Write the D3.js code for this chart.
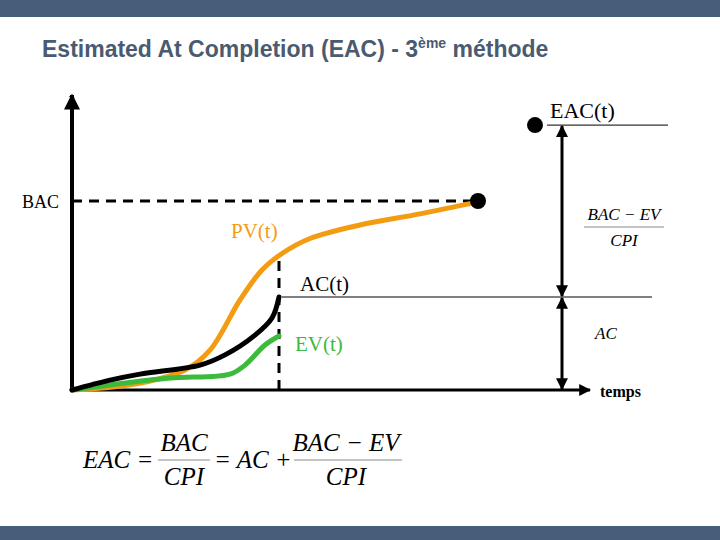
<!DOCTYPE html>
<html>
<head>
<meta charset="utf-8">
<script src="https://cdn.jsdelivr.net/npm/d3@7"></script>
<style>
  body { margin: 0; background: #fff; }
  .serif { font-family: "Liberation Serif", "DejaVu Serif", serif; }
</style>
</head>
<body>
<svg id="chart" width="720" height="540"></svg>
<script>
// time in % of the horizontal extent, value in % of the vertical extent
var pvT = [0, 11.6, 22.6, 27.6, 33.6, 38, 42, 47.6, 57.6, 69.6, 81.2]
var pvV = [0, 1.7, 6.7, 13.3, 30, 40, 45.5, 50.5, 55, 58.7, 62.7]
var acT = [0, 7.6, 13.6, 25.6, 30.6, 36.6, 40, 41.4]
var acV = [0, 3.3, 5.3, 8.3, 11.7, 18.3, 24, 31]
var evT = [0, 7.6, 19.6, 31.6, 34.6, 38.6, 41.4]
var evV = [0, 1.7, 4, 5.3, 8.3, 15, 18]
var BAC = 63, tNow = 41.4, acNow = 31, EAC = 88.3, tEnd = 81.2, tEac = 92.6, tArrow = 98

var svg = d3.select("#chart")
var x = d3.scaleLinear().domain([0, 100]).range([72, 572])
var y = d3.scaleLinear().domain([0, 100]).range([390, 90])

svg.append("rect").attr("width", 720).attr("height", 17).attr("fill", "#475e7b")
svg.append("rect").attr("y", 526).attr("width", 720).attr("height", 14).attr("fill", "#475e7b")

var title = svg.append("text")
    .attr("x", 42).attr("y", 57)
    .attr("font-family", "Liberation Sans, Arial, sans-serif")
    .attr("font-weight", "bold").attr("font-size", 23)
    .attr("fill", "#4a5a70")
title.append("tspan").text("Estimated At Completion (EAC) - 3")
title.append("tspan").attr("font-size", 14).attr("dy", -9).text("ème")
title.append("tspan").attr("dy", 9).text(" méthode")

var defs = svg.append("defs")
defs.append("marker").attr("id", "arr").attr("viewBox", "0 0 10 10")
    .attr("refX", 9).attr("refY", 5).attr("markerWidth", 4).attr("markerHeight", 4)
    .attr("orient", "auto-start-reverse")
    .append("path").attr("d", "M0,0L10,5L0,10z").attr("fill", "#000")

// axes
svg.append("line").attr("x1", x(0)).attr("x2", x(0)).attr("y1", y(0) + 2).attr("y2", y(98.3))
    .attr("stroke", "#000").attr("stroke-width", 4).attr("marker-end", "url(#arr)")
svg.append("line").attr("x1", x(0) - 2).attr("x2", x(103.6)).attr("y1", y(0)).attr("y2", y(0))
    .attr("stroke", "#000").attr("stroke-width", 3).attr("marker-end", "url(#arr)")
svg.append("text").attr("x", 68).attr("y", 100).attr("font-size", 10).text("·-")

// BAC dashed line
svg.append("line").attr("x1", x(0)).attr("x2", x(tEnd)).attr("y1", y(BAC)).attr("y2", y(BAC))
    .attr("stroke", "#000").attr("stroke-width", 3).attr("stroke-dasharray", "10,7")
svg.append("line").attr("x1", x(tNow)).attr("x2", x(tNow)).attr("y1", y(0)).attr("y2", y(45))
    .attr("stroke", "#000").attr("stroke-width", 3).attr("stroke-dasharray", "10,7")

var line = d3.line().x(d => x(d[0])).y(d => y(d[1])).curve(d3.curveCatmullRom)
var curves = [
  [pvT, pvV, "#f39c12"],
  [evT, evV, "#3cba3c"],
  [acT, acV, "#000"]
]
curves.forEach(c => {
  svg.append("path").datum(c[0].map((t, i) => [t, c[1][i]]))
      .attr("d", line).attr("fill", "none").attr("stroke", c[2])
      .attr("stroke-width", 5).attr("stroke-linecap", "round")
})

// reference lines
svg.append("line").attr("x1", x(tNow) + 3).attr("x2", x(116)).attr("y1", y(acNow)).attr("y2", y(acNow))
    .attr("stroke", "#000").attr("stroke-width", 1)
svg.append("line").attr("x1", x(95)).attr("x2", x(119.2)).attr("y1", y(EAC)).attr("y2", y(EAC))
    .attr("stroke", "#000").attr("stroke-width", 1)

svg.append("circle").attr("cx", x(tEnd)).attr("cy", y(BAC)).attr("r", 8)
svg.append("circle").attr("cx", x(tEac)).attr("cy", y(EAC)).attr("r", 8)

// double arrows
;[[EAC, acNow], [acNow, 0]].forEach(s => {
  svg.append("line").attr("x1", x(tArrow)).attr("x2", x(tArrow))
      .attr("y1", y(s[0]) + 1).attr("y2", y(s[1]) - 1)
      .attr("stroke", "#000").attr("stroke-width", 3)
      .attr("marker-start", "url(#arr)").attr("marker-end", "url(#arr)")
})

// labels
function lab(t, px, py, size, color, extra) {
  var e = svg.append("text").attr("class", "serif").attr("x", px).attr("y", py)
      .attr("font-size", size).attr("fill", color).text(t)
  if (extra) extra(e)
  return e
}
lab("EAC(t)", 550, 118, 22, "#000")
lab("BAC", 22, 208, 18, "#000")
lab("PV(t)", 231, 238, 21, "#f39c12")
lab("AC(t)", 300, 291, 21, "#000")
lab("EV(t)", 295, 351, 21, "#3cba3c")
lab("temps", 600, 397, 16, "#000", e => e.attr("font-weight", "bold"))
lab("AC", 595, 339, 17, "#000", e => e.attr("font-style", "italic"))
lab("BAC − EV", 624, 220, 17, "#000", e => e.attr("font-style", "italic").attr("text-anchor", "middle"))
lab("CPI", 624, 246, 17, "#000", e => e.attr("font-style", "italic").attr("text-anchor", "middle"))
svg.append("line").attr("x1", 584).attr("x2", 664).attr("y1", 227).attr("y2", 227).attr("stroke", "#888")

// bottom formula
var fy = 460
lab("EAC =", 83, fy + 8, 25, "#000", e => e.attr("font-style", "italic"))
lab("BAC", 184, fy - 9, 25, "#000", e => e.attr("font-style", "italic").attr("text-anchor", "middle"))
lab("CPI", 184, fy + 25, 25, "#000", e => e.attr("font-style", "italic").attr("text-anchor", "middle"))
svg.append("line").attr("x1", 158).attr("x2", 210).attr("y1", fy).attr("y2", fy).attr("stroke", "#888")
lab("= AC +", 214, fy + 8, 25, "#000", e => e.attr("font-style", "italic"))
lab("BAC − EV", 346, fy - 9, 25, "#000", e => e.attr("font-style", "italic").attr("text-anchor", "middle"))
lab("CPI", 346, fy + 25, 25, "#000", e => e.attr("font-style", "italic").attr("text-anchor", "middle"))
svg.append("line").attr("x1", 294).attr("x2", 402).attr("y1", fy).attr("y2", fy).attr("stroke", "#888")
</script>
</body>
</html>
